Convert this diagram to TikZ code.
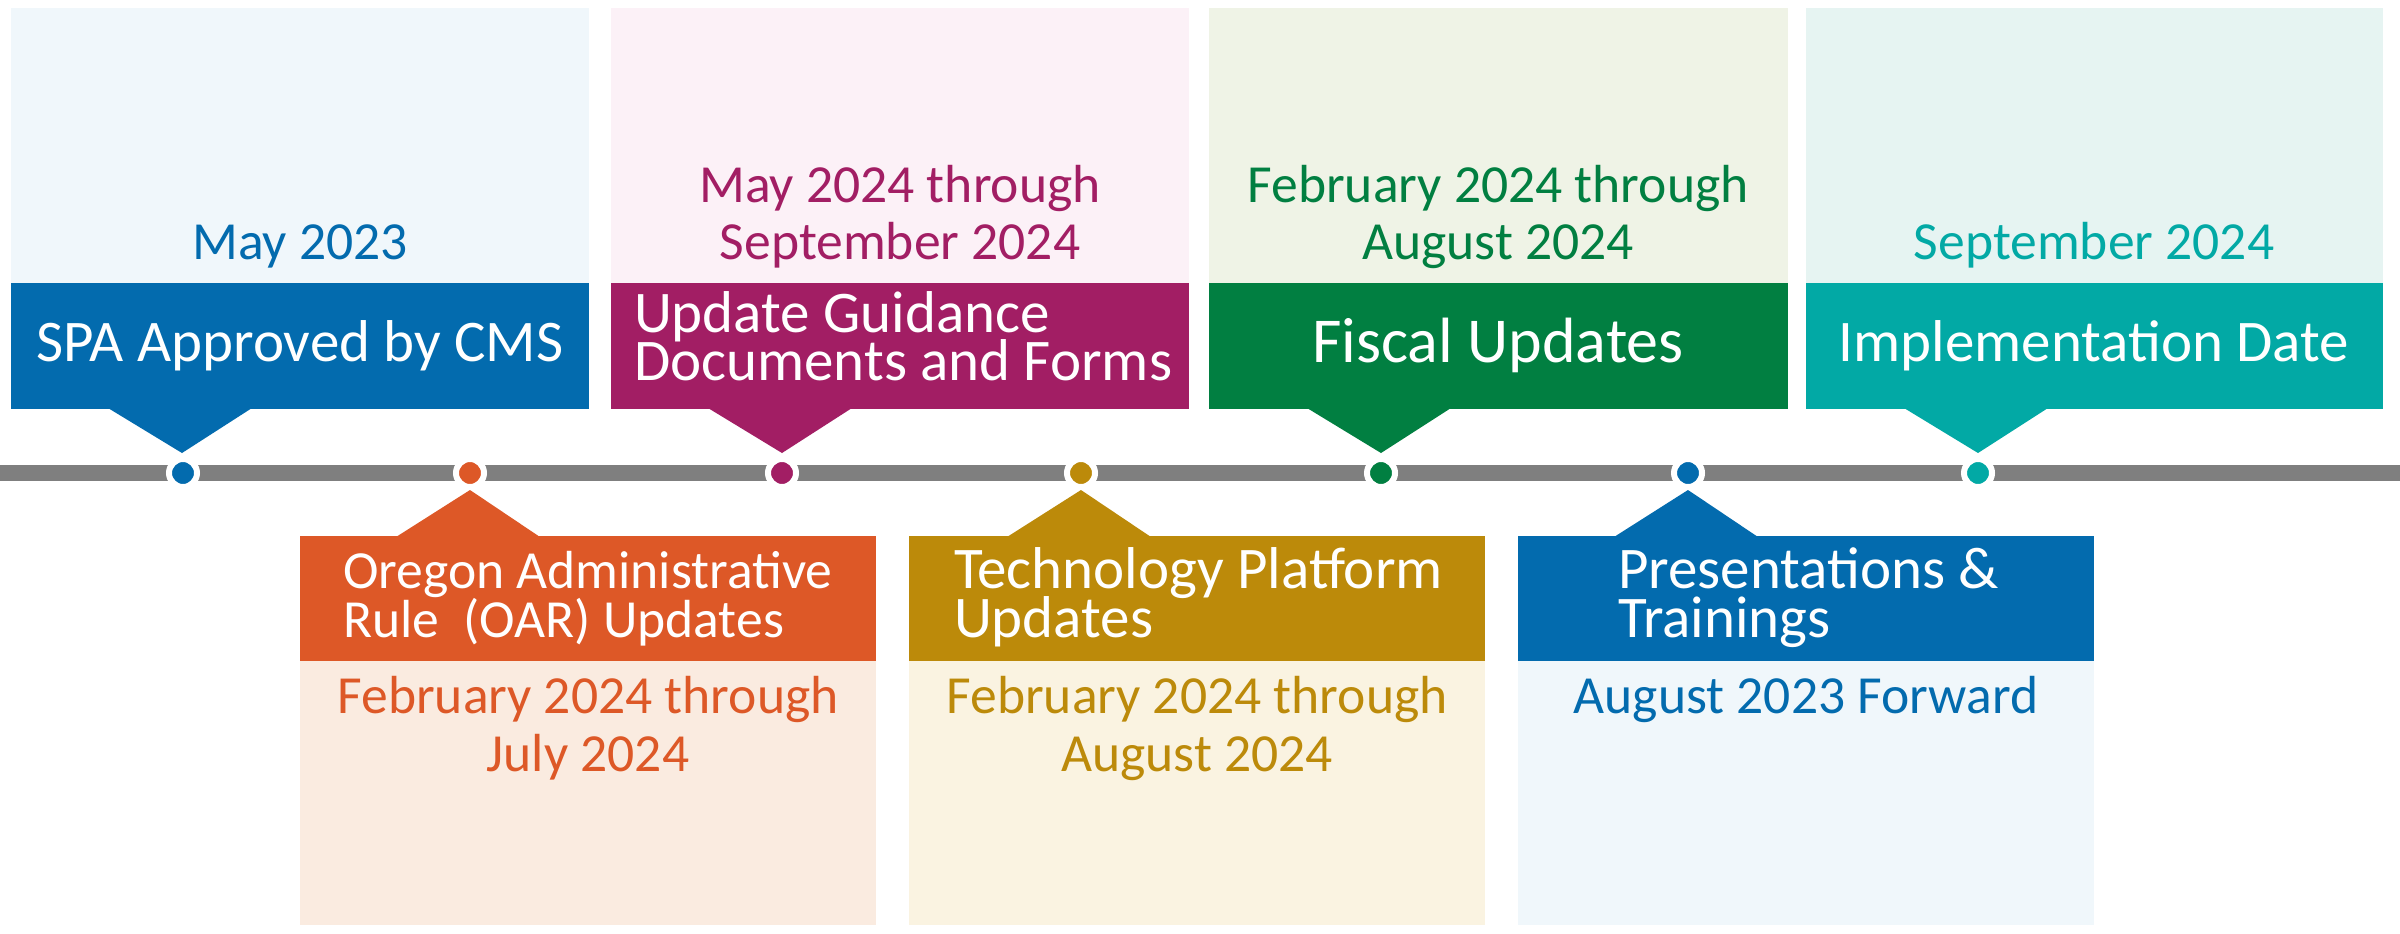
\documentclass[tikz,border=0pt]{standalone}
\usepackage{fontspec}
\setmainfont{Carlito}
\definecolor{cblue}{HTML}{036BAE}
\definecolor{lblue}{HTML}{F0F7FB}
\definecolor{cmag}{HTML}{A21E64}
\definecolor{lmag}{HTML}{FCF1F7}
\definecolor{cgreen}{HTML}{017F41}
\definecolor{lgreen}{HTML}{EFF3E6}
\definecolor{cteal}{HTML}{02A9A5}
\definecolor{lteal}{HTML}{E6F4F2}
\definecolor{corange}{HTML}{DD5827}
\definecolor{lorange}{HTML}{FAEBE0}
\definecolor{cgold}{HTML}{BC8A0A}
\definecolor{lgold}{HTML}{FAF3E1}
\definecolor{cgray}{HTML}{7F7F7F}
\begin{document}
\begin{tikzpicture}[x=0.5pt,y=-0.5pt,
  hdr/.style={inner sep=0pt, outer sep=0pt, text=white, font=\fontsize{29.5}{29.5}\selectfont},
  dt/.style={inner sep=0pt, outer sep=0pt, font=\fontsize{26.8}{26.8}\selectfont},
  tdot/.style={circle, draw=white, line width=3pt, minimum size=14pt, inner sep=0pt}]
\useasboundingbox (0,0) rectangle (2400,933);
\fill[white] (0,0) rectangle (2400,933);

% ---------- top boxes ----------
\fill[lblue] (11,8) rectangle (589,283);
\fill[cblue] (11,283) rectangle (589,409);
\fill[cblue] (108,408) -- (182,453) -- (252,408) -- cycle;
\fill[lmag] (611,8) rectangle (1189,283);
\fill[cmag] (611,283) rectangle (1189,409);
\fill[cmag] (708,408) -- (782,453) -- (852,408) -- cycle;
\fill[lgreen] (1209,8) rectangle (1788,283);
\fill[cgreen] (1209,283) rectangle (1788,409);
\fill[cgreen] (1307,408) -- (1381,453) -- (1451,408) -- cycle;
\fill[lteal] (1806,8) rectangle (2383,283);
\fill[cteal] (1806,283) rectangle (2383,409);
\fill[cteal] (1904,408) -- (1978,453) -- (2048,408) -- cycle;

% ---------- bottom boxes ----------
\fill[lorange] (300,661) rectangle (876,925);
\fill[corange] (300,536) rectangle (876,661);
\fill[corange] (396,537) -- (470,490) -- (540,537) -- cycle;
\fill[lgold] (909,661) rectangle (1485,925);
\fill[cgold] (909,536) rectangle (1485,661);
\fill[cgold] (1007,537) -- (1081,490) -- (1151,537) -- cycle;
\fill[lblue] (1518,661) rectangle (2094,925);
\fill[cblue] (1518,536) rectangle (2094,661);
\fill[cblue] (1614,537) -- (1688,490) -- (1758,537) -- cycle;

% ---------- timeline ----------
\fill[cgray] (0,465) rectangle (2400,481);
\node[tdot, fill=cblue]   (d1) at (183,473) {};
\node[tdot, fill=corange] (d2) at (470,473) {};
\node[tdot, fill=cmag]    (d3) at (782,473) {};
\node[tdot, fill=cgold]   (d4) at (1081,473) {};
\node[tdot, fill=cgreen]  (d5) at (1381,473) {};
\node[tdot, fill=cblue]   (d6) at (1688,473) {};
\node[tdot, fill=cteal]   (d7) at (1978,473) {};

% ---------- top texts ----------
\node[dt, text=cblue, anchor=base] (t1d) at (300,259) {May 2023};
\node[hdr, anchor=base] (t1h) at (300,361) {SPA Approved by CMS};

\node[dt, text=cmag, anchor=base] (t2da) at (900,202) {May 2024 through};
\node[dt, text=cmag, anchor=base] (t2db) at (900,259) {September 2024};
\node[hdr, anchor=base west] (t2ha) at (634,332) {Update Guidance};
\node[hdr, anchor=base west] (t2hb) at (634,380) {Documents and Forms};

\node[dt, text=cgreen, anchor=base] (t3da) at (1498,202) {February 2024 through};
\node[dt, text=cgreen, anchor=base] (t3db) at (1498,259) {August 2024};
\node[hdr, anchor=base, font=\fontsize{32}{32}\selectfont] (t3h) at (1498,362) {Fiscal Updates};

\node[dt, text=cteal, anchor=base] (t4d) at (2094,259) {September 2024};
\node[hdr, anchor=base] (t4h) at (2094,361) {Implementation Date};

% ---------- bottom texts ----------
\node[hdr, anchor=base west, font=\fontsize{26.8}{26.8}\selectfont] (bAha) at (343,588) {Oregon Administrative};
\node[hdr, anchor=base west, font=\fontsize{26.8}{26.8}\selectfont] (bAhb) at (343,637) {Rule\ \ (OAR) Updates};
\node[dt, text=corange, anchor=base] (bAda) at (588,713) {February 2024 through};
\node[dt, text=corange, anchor=base] (bAdb) at (588,771) {July 2024};

\node[hdr, anchor=base west] (bBha) at (954,588) {Technology Platform};
\node[hdr, anchor=base west] (bBhb) at (954,637) {Updates};
\node[dt, text=cgold, anchor=base] (bBda) at (1197,713) {February 2024 through};
\node[dt, text=cgold, anchor=base] (bBdb) at (1197,771) {August 2024};

\node[hdr, anchor=base west] (bCha) at (1618,588) {Presentations \&};
\node[hdr, anchor=base west] (bChb) at (1618,637) {Trainings};
\node[dt, text=cblue, anchor=base] (bCd) at (1806,713) {August 2023 Forward};
\end{tikzpicture}
\end{document}
